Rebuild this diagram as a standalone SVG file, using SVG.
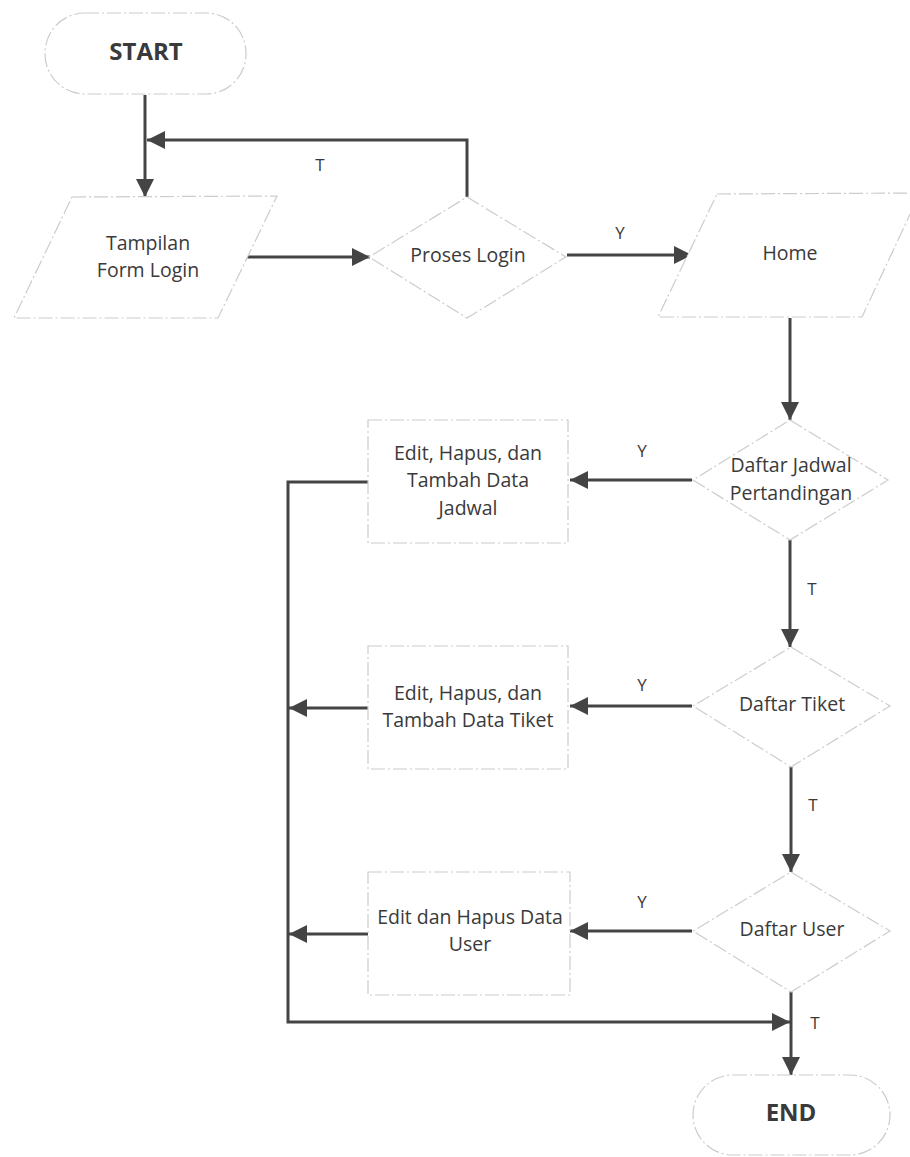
<svg xmlns="http://www.w3.org/2000/svg" width="910" height="1157" viewBox="0 0 910 1157">
<style>
.shape{fill:#fff;stroke:#cccccc;stroke-width:1.2;stroke-dasharray:14 3 2 3}
.edge{fill:none;stroke:#444;stroke-width:3}
.t{font-family:"Open Sans","Liberation Sans",sans-serif;font-size:19.5px;fill:#3a3a3a;text-anchor:middle;dominant-baseline:middle}
.b{font-weight:bold;font-size:24px}
.lbl{font-family:"Open Sans","Liberation Sans",sans-serif;font-size:17px;fill:#3a3a3a;text-anchor:middle;dominant-baseline:middle}
</style>
<defs>
<marker id="ah" markerUnits="userSpaceOnUse" markerWidth="20" markerHeight="18" refX="18" refY="9" orient="auto">
<path d="M0,0 L18,9 L0,18 z" fill="#444"/>
</marker>
</defs>
<rect width="910" height="1157" fill="#fff"/>
<g id="edges">
<path class="edge" d="M145,95 V197" marker-end="url(#ah)"/>
<path class="edge" d="M467,197 V140 H147" marker-end="url(#ah)"/>
<path class="edge" d="M245,257 H370" marker-end="url(#ah)"/>
<path class="edge" d="M567,255 H692" marker-end="url(#ah)"/>
<path class="edge" d="M790,318 V420" marker-end="url(#ah)"/>
<path class="edge" d="M692,480 H570" marker-end="url(#ah)"/>
<path class="edge" d="M368,482 H288 V1022 H790" marker-end="url(#ah)"/>
<path class="edge" d="M790,540 V647" marker-end="url(#ah)"/>
<path class="edge" d="M692,706 H570" marker-end="url(#ah)"/>
<path class="edge" d="M368,708 H289" marker-end="url(#ah)"/>
<path class="edge" d="M791,767 V872" marker-end="url(#ah)"/>
<path class="edge" d="M692,931 H570" marker-end="url(#ah)"/>
<path class="edge" d="M368,934 H289" marker-end="url(#ah)"/>
<path class="edge" d="M791,992 V1075" marker-end="url(#ah)"/>
<text class="lbl" x="320" y="166">T</text>
<text class="lbl" x="620" y="234">Y</text>
<text class="lbl" x="642" y="452">Y</text>
<text class="lbl" x="812" y="590">T</text>
<text class="lbl" x="642" y="686">Y</text>
<text class="lbl" x="813" y="806">T</text>
<text class="lbl" x="642" y="903">Y</text>
<text class="lbl" x="815" y="1024">T</text>
</g>
<g id="start">
<rect class="shape" x="45" y="13" width="201" height="81" rx="40" ry="40"/>
<text class="t b" x="146" y="54">START</text>
</g>
<g id="tampilan">
<polygon class="shape" points="72,197 277,196 218,318 14,318"/>
<text class="t" x="148" y="245">Tampilan</text>
<text class="t" x="148" y="272">Form Login</text>
</g>
<g id="proses-login">
<polygon class="shape" points="467,197 566,257 467,318 369,257"/>
<text class="t" x="468" y="257">Proses Login</text>
</g>
<g id="home">
<polygon class="shape" points="717,194 920,193 862,317 658,317"/>
<text class="t" x="790" y="255">Home</text>
</g>
<g id="daftar-jadwal">
<polygon class="shape" points="790,420 888,480 790,540 693,480"/>
<text class="t" x="791" y="467">Daftar Jadwal</text>
<text class="t" x="791" y="495">Pertandingan</text>
</g>
<g id="edit-jadwal">
<rect class="shape" x="368" y="420" width="200" height="123"/>
<text class="t" x="468" y="455">Edit, Hapus, dan</text>
<text class="t" x="468" y="482">Tambah Data</text>
<text class="t" x="468" y="510">Jadwal</text>
</g>
<g id="daftar-tiket">
<polygon class="shape" points="791,647 890,706 791,767 693,706"/>
<text class="t" x="792" y="706">Daftar Tiket</text>
</g>
<g id="edit-tiket">
<rect class="shape" x="368" y="646" width="200" height="123"/>
<text class="t" x="468" y="695">Edit, Hapus, dan</text>
<text class="t" x="468" y="722">Tambah Data Tiket</text>
</g>
<g id="daftar-user">
<polygon class="shape" points="791,872 890,931 791,992 693,931"/>
<text class="t" x="792" y="931">Daftar User</text>
</g>
<g id="edit-user">
<rect class="shape" x="368" y="872" width="202" height="123"/>
<text class="t" x="470" y="919">Edit dan Hapus Data</text>
<text class="t" x="470" y="946">User</text>
</g>
<g id="end">
<rect class="shape" x="693" y="1075" width="197" height="80" rx="40" ry="40"/>
<text class="t b" x="791" y="1115">END</text>
</g>
</svg>
